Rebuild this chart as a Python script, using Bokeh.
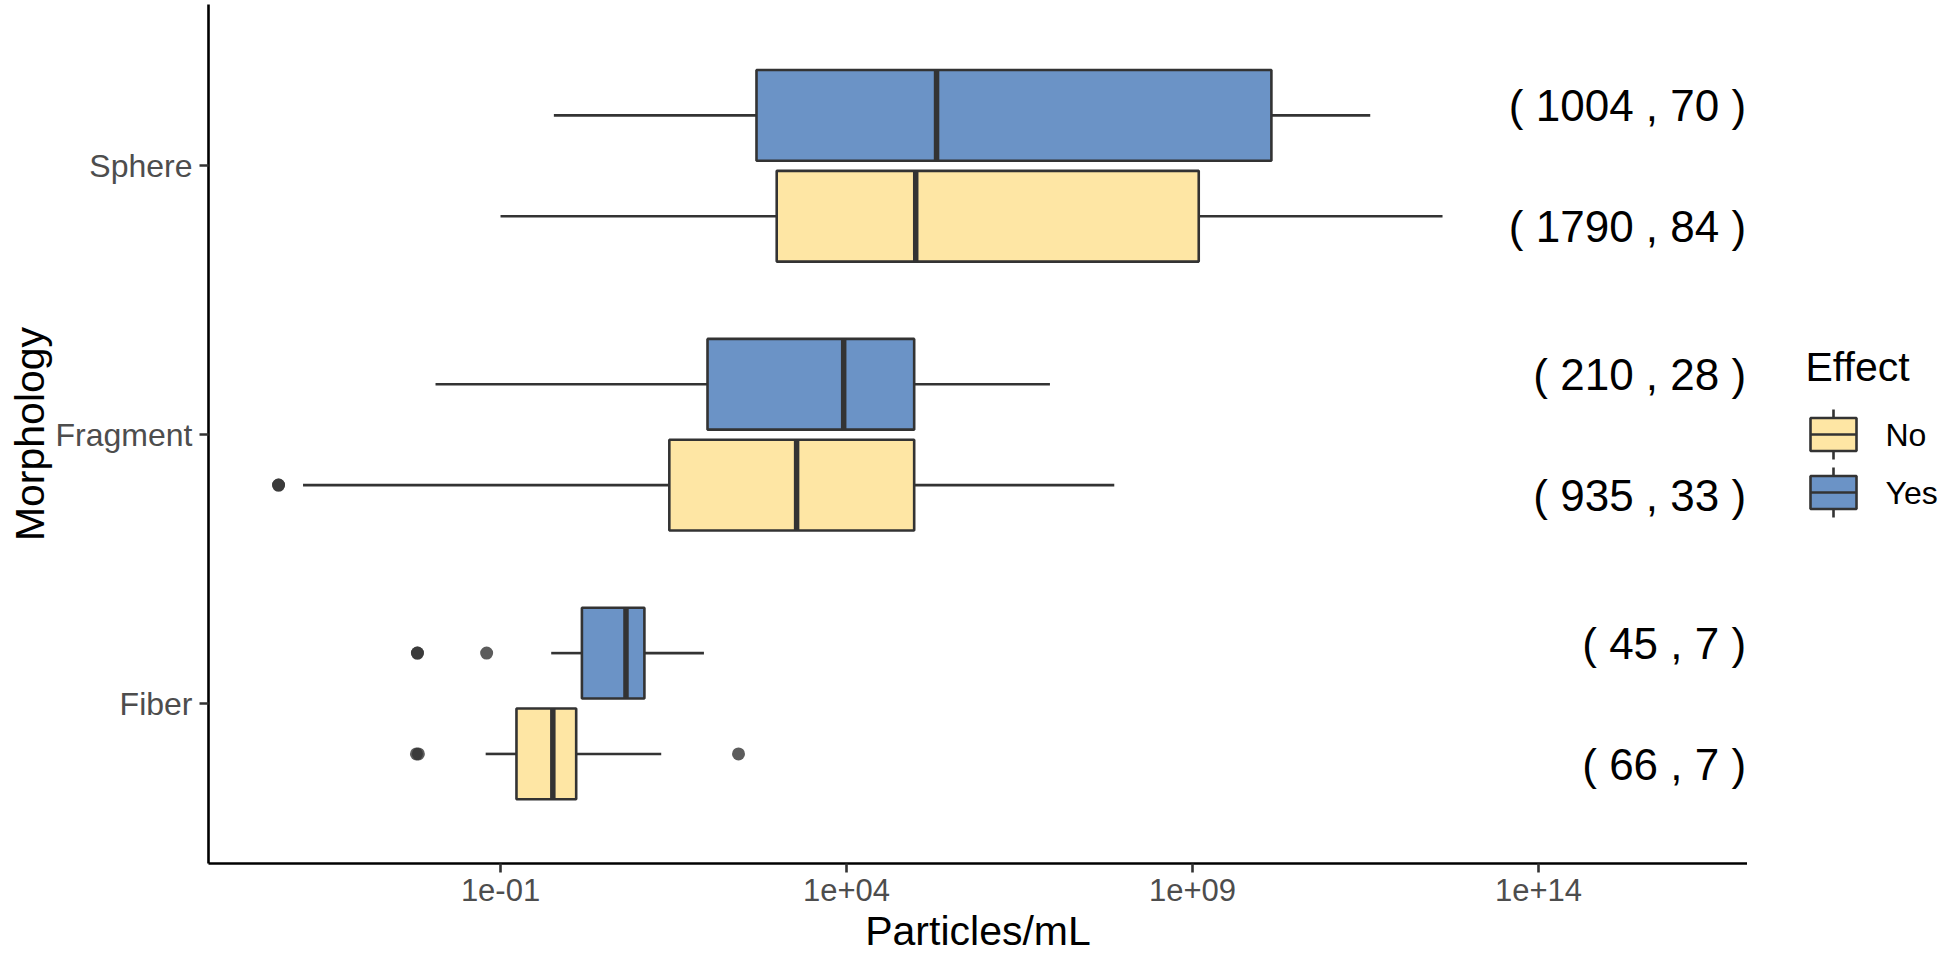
from bokeh.plotting import figure
from bokeh.layouts import row
from bokeh.models import Range1d, FixedTicker, CustomJSTickFormatter, ColumnDataSource
from bokeh.core.properties import value
from bokeh.embed import file_html
from bokeh.resources import INLINE

# ---------------- data ----------------
morphologies = ["Fiber", "Fragment", "Sphere"]          # bottom -> top
effects = ["No", "Yes"]
group_morph = ["Sphere", "Sphere", "Fragment", "Fragment", "Fiber", "Fiber"]
group_effect = ["Yes", "No", "Yes", "No", "Yes", "No"]
whisker_low = [5.9e-1, 1.0e-1, 1.15e-2, 1.4e-4, 5.4e-1, 6.1e-2]
q1 = [5.0e2, 9.8e2, 9.8e1, 2.75e1, 1.5e0, 1.7e-1]
median = [2.0e5, 1.0e5, 9.1e3, 1.9e3, 6.5e0, 5.7e-1]
q3 = [1.38e10, 1.23e9, 9.5e4, 9.5e4, 1.2e1, 1.24e0]
whisker_high = [3.7e11, 4.1e12, 8.7e6, 7.4e7, 8.7e1, 2.1e1]
outlier_morph = ["Fragment", "Fragment", "Fiber", "Fiber", "Fiber", "Fiber", "Fiber", "Fiber"]
outlier_effect = ["No", "No", "Yes", "Yes", "Yes", "No", "No", "No"]
outlier_value = [6.2e-5, 6.2e-5, 6.3e-3, 6.3e-3, 6.3e-2, 6.1e-3, 6.5e-3, 2.75e2]
count_labels = ["( 1004 , 70 )", "( 1790 , 84 )", "( 210 , 28 )",
                "( 935 , 33 )", "( 45 , 7 )", "( 66 , 7 )"]
x_tick_values = [1e-1, 1e4, 1e9, 1e14]
x_tick_labels = ["1e-01", "1e+04", "1e+09", "1e+14"]
x_title = "Particles/mL"
y_title = "Morphology"
legend_title = "Effect"
fill_colors = {"No": "#fee6a4", "Yes": "#6b93c6"}

FONT = "Liberation Sans"
LINE = "#333333"
DODGE = 0.1875
BOX_H = 0.3375
TEXT_DODGE = 0.225
PAGE_W, PAGE_H = 1944, 959
MAIN_W = 1747
LEG_W = PAGE_W - MAIN_W
LEFT = 208
TOP = 4
AXIS_Y = 863                      # page pixel row of the x axis line
BOTTOM = PAGE_H - AXIS_Y

def ypos(m, e, d):
    return morphologies.index(m) + 1 + (d if e == "Yes" else -d)

box_y = [ypos(m, e, DODGE) for m, e in zip(group_morph, group_effect)]
src = ColumnDataSource(dict(
    y=box_y, wl=whisker_low, q1=q1, med=median, q3=q3, wh=whisker_high,
    fill=[fill_colors[e] for e in group_effect],
    y0=[y - BOX_H / 2 for y in box_y], y1=[y + BOX_H / 2 for y in box_y],
))

p = figure(width=MAIN_W, height=PAGE_H, x_axis_type="log",
           x_range=Range1d(10 ** -5.22, 10 ** 17.02), y_range=Range1d(0.405, 3.6),
           toolbar_location=None, output_backend="svg",
           min_border_left=LEFT, min_border_right=0, min_border_top=TOP,
           min_border_bottom=BOTTOM)
p.grid.visible = False
p.outline_line_color = None
p.background_fill_color = "white"

# whiskers
p.segment(x0="wl", y0="y", x1="q1", y1="y", source=src, line_color=LINE, line_width=2.6)
p.segment(x0="q3", y0="y", x1="wh", y1="y", source=src, line_color=LINE, line_width=2.6)
# boxes
p.hbar(y="y", left="q1", right="q3", height=BOX_H, source=src, fill_color="fill",
       line_color=LINE, line_width=2.6)
# medians
p.segment(x0="med", y0="y0", x1="med", y1="y1", source=src, line_color=LINE, line_width=5.5)
# outliers
p.scatter(x=outlier_value,
          y=[ypos(m, e, DODGE) for m, e in zip(outlier_morph, outlier_effect)],
          size=13, fill_color="#333333", line_color=None, fill_alpha=0.8)
# count labels
p.text(x=[10 ** 17.0] * len(count_labels),
       y=[ypos(m, e, TEXT_DODGE) for m, e in zip(group_morph, group_effect)],
       text=count_labels, text_align="right", text_baseline="middle",
       text_font=value(FONT), text_font_size="44px", text_color="black")

# axes
p.xaxis.ticker = FixedTicker(ticks=x_tick_values, minor_ticks=[])
p.xaxis.formatter = CustomJSTickFormatter(args=dict(vals=x_tick_values, labs=x_tick_labels), code="""
let best = 0;
for (let i = 0; i < vals.length; i++) {
  if (Math.abs(Math.log10(vals[i]) - Math.log10(tick)) < Math.abs(Math.log10(vals[best]) - Math.log10(tick))) best = i;
}
return labs[best];
""")
p.yaxis.ticker = FixedTicker(ticks=[1, 2, 3], minor_ticks=[])
p.yaxis.formatter = CustomJSTickFormatter(args=dict(labels=morphologies),
                                          code="return labels[Math.round(tick) - 1] || '';")
for ax in (p.xaxis, p.yaxis):
    ax.axis_line_color = "black"
    ax.axis_line_width = 2.6
    ax.major_tick_line_color = "#333333"
    ax.major_tick_line_width = 2.6
    ax.major_tick_out = 9
    ax.major_tick_in = 0
    ax.minor_tick_line_color = None
    ax.major_label_text_font = FONT
    ax.major_label_text_color = "#4d4d4d"
    ax.axis_label_text_font = FONT
    ax.axis_label_text_font_size = "41px"
    ax.axis_label_text_font_style = "normal"
    ax.axis_label_text_color = "black"
p.xaxis.major_label_text_font_size = "31px"
p.yaxis.major_label_text_font_size = "32px"
p.xaxis.major_label_text_line_height = 1.0
p.xaxis.axis_label_text_line_height = 1.0
p.xaxis.major_label_standoff = 6
p.yaxis.major_label_standoff = 7
p.xaxis.axis_label = x_title
p.yaxis.axis_label = y_title
p.xaxis.axis_label_standoff = 4
p.yaxis.axis_label_standoff = 0

# ---------------- legend (page pixel coordinates) ----------------
legend_y = [434, 492]
leg = figure(width=LEG_W, height=PAGE_H, x_range=Range1d(0, LEG_W),
             y_range=Range1d(AXIS_Y, TOP),
             toolbar_location=None, output_backend="svg",
             min_border_left=0, min_border_right=0, min_border_top=TOP,
             min_border_bottom=BOTTOM, x_axis_location=None, y_axis_location=None)
leg.grid.visible = False
leg.outline_line_color = None
leg.text(x=[58], y=[366], text=[legend_title], text_baseline="middle",
         text_font=value(FONT), text_font_size="41px", text_color="black")
leg.segment(x0=[86, 86], y0=[y - 25 for y in legend_y], x1=[86, 86], y1=[y + 25 for y in legend_y],
            line_color=LINE, line_width=2.6)
leg.quad(left=[63, 63], right=[109, 109], top=[y - 16.5 for y in legend_y],
         bottom=[y + 16.5 for y in legend_y], fill_color=[fill_colors[e] for e in effects],
         line_color=LINE, line_width=2.6)
leg.segment(x0=[63, 63], y0=legend_y, x1=[109, 109], y1=legend_y, line_color=LINE, line_width=2.6)
leg.text(x=[138, 138], y=legend_y, text=effects, text_baseline="middle",
         text_font=value(FONT), text_font_size="32px", text_color="black")

layout = row(p, leg)
open("out.html", "w").write(file_html(layout, INLINE))
